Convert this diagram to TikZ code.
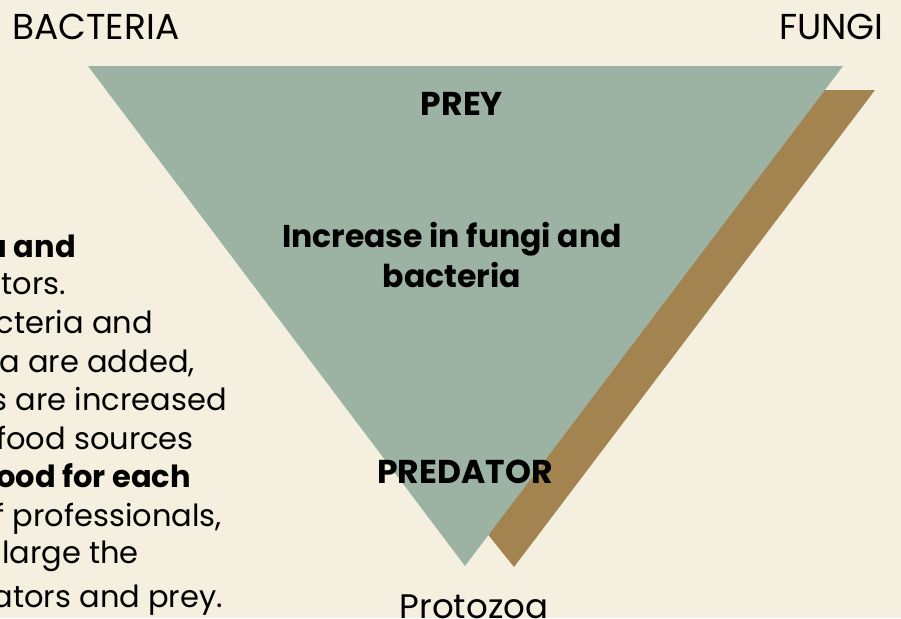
\documentclass[tikz,border=0pt]{standalone}
\usepackage{fontspec}
\setmainfont{Poppins}
\usepackage{xcolor}
\definecolor{soilBeige}{HTML}{F4EFDE}
\definecolor{preyGreen}{HTML}{9CB3A3}
\definecolor{shadowBrown}{HTML}{A3834F}
\usetikzlibrary{positioning}

\begin{document}
\begin{tikzpicture}[
		x=1pt, y=-1pt,
		every node/.style={
			inner sep=0pt,
			text=black,
			font=\fontsize{36}{40}\selectfont
		},
		corner/.style={anchor=base west},
		bodyline/.style={anchor=base east, font=\fontsize{30.5}{36}\selectfont},
		heading/.style={anchor=base, font=\fontsize{33}{38}\selectfont\bfseries},
		centertext/.style={align=center, font=\fontsize{31.5}{40}\selectfont\bfseries}
		]
		
		\useasboundingbox[fill=soilBeige] (0,0) rectangle (901,618);
		
		% shadow and pyramid
		\fill[shadowBrown] (132,90) -- (875,90) -- (514,567) -- cycle;
		\fill[preyGreen] (88,66) -- (843,66) -- (465,566) -- cycle;
		
		\node[corner] (bacteria) at (12,40) {BACTERIA};
		\node[corner, anchor=base east] (fungi) at (884,40) {FUNGI};
		
		\node[heading] (prey) at (462,115) {PREY};
		\node[centertext, anchor=base] (increase) at (452,287) {Increase in fungi and\\bacteria};
		\node[heading] (predator) at (465,483) {PREDATOR};
		\node[anchor=base, font=\fontsize{34}{38}\selectfont] (protozoa) at (474,618) {Protozoa};
		
		% text cut at the left edge
		\foreach \i/\xe/\yb/\txt in {
			1/76/257/\textbf{a and},
			2/66/294/tors.,
			3/153/333/cteria and,
			4/195/372/a are added{,},
			5/227/410/s are increased,
			6/194/449/food sources,
			7/191/487/\textbf{ood for each},
			8/222/526/rf professionals{,},
			9/139/563/large the,
			10/223/607/ators and prey.}
			\node[bodyline] (line\i) at (\xe,\yb) {\txt};
		
	\end{tikzpicture}
\end{document}
